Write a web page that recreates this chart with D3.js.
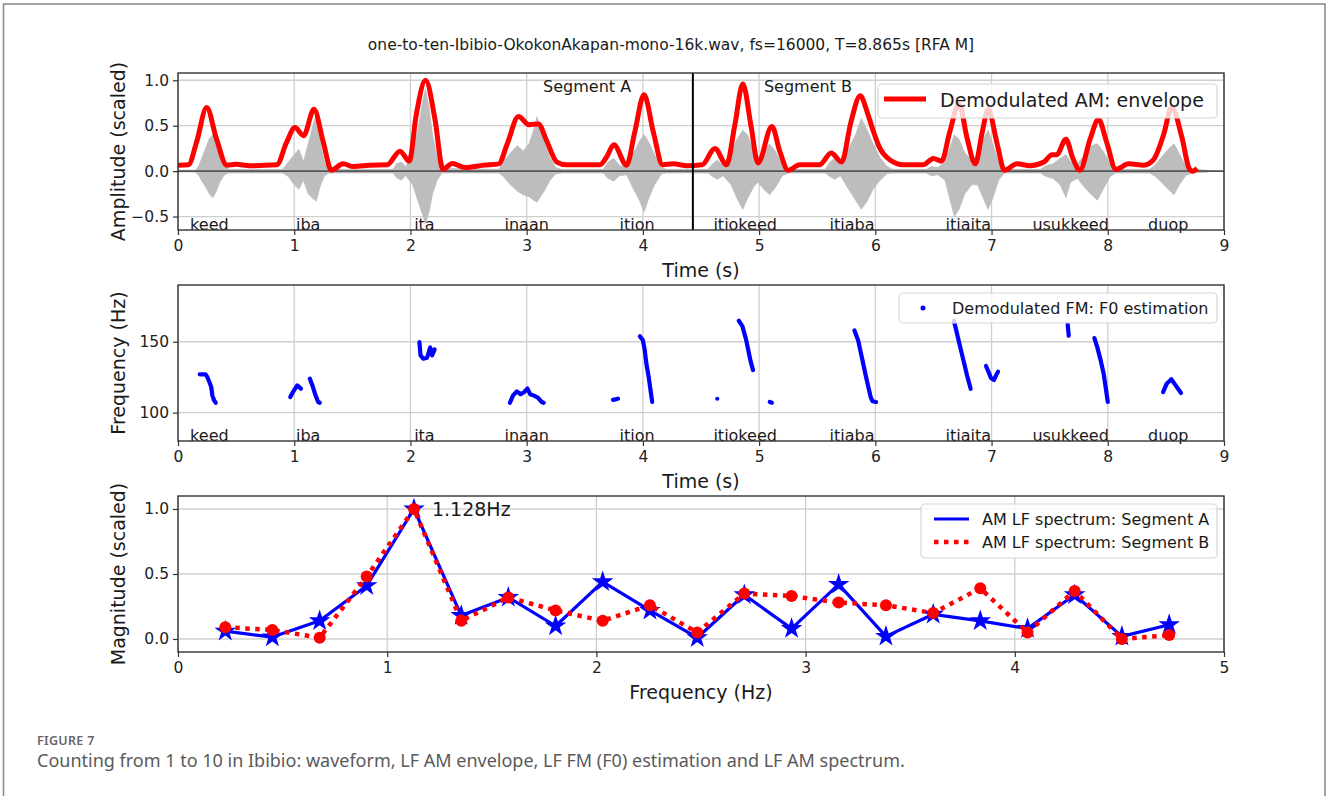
<!DOCTYPE html>
<html>
<head>
<meta charset="utf-8">
<script src="https://cdn.jsdelivr.net/npm/d3@7"></script>
<style>
    body { margin: 0; background: #fff; }
    svg text { font-family: "DejaVu Sans", sans-serif; fill: #1a1a1a; }
    .tick text { font-size: 15.5px; fill: #222; }
    .tick line { stroke: #333; stroke-width: 1.2; }
</style>
</head>
<body>
<svg id="fig"></svg>
<script>
// ---- Data ----
var title = 'one-to-ten-Ibibio-OkokonAkapan-mono-16k.wav, fs=16000, T=8.865s [RFA M]';

// gray waveform, drawn as upper / lower outline (time s, amplitude)
var waveTime = [0.00, 0.15, 0.18, 0.21, 0.24, 0.27, 0.30, 0.33, 0.36, 0.40, 0.44,
    0.90, 0.95, 1.00, 1.04, 1.08, 1.12, 1.16, 1.19, 1.22, 1.26, 1.30,
    1.85, 1.88, 1.92, 1.96, 2.02, 2.07, 2.11, 2.13, 2.16, 2.19, 2.23, 2.27,
    2.76, 2.80, 2.86, 2.92, 2.97, 3.02, 3.06, 3.09, 3.12, 3.16, 3.20, 3.25, 3.30,
    3.66, 3.70, 3.75, 3.80, 3.86, 3.92, 3.97, 4.01, 4.05, 4.10, 4.16, 4.20,
    4.56, 4.60, 4.64, 4.69, 4.76, 4.81, 4.86, 4.90, 4.95, 4.99, 5.04, 5.09, 5.14, 5.20, 5.25,
    5.57, 5.61, 5.65, 5.70, 5.77, 5.83, 5.88, 5.93, 5.98, 6.04, 6.10, 6.15,
    6.44, 6.48, 6.54, 6.60, 6.64, 6.68, 6.72, 6.77, 6.83, 6.88, 6.93, 6.97, 7.01, 7.06, 7.11,
    7.42, 7.47, 7.53, 7.59, 7.64, 7.68, 7.74, 7.80, 7.86, 7.91, 7.96, 8.02, 8.07,
    8.36, 8.41, 8.46, 8.52, 8.57, 8.62, 8.67, 8.72, 8.865];
var waveUpper = [0.01, 0.01, 0.06, 0.16, 0.26, 0.36, 0.40, 0.30, 0.18, 0.06, 0.02,
    0.02, 0.10, 0.18, 0.24, 0.10, 0.30, 0.50, 0.62, 0.35, 0.10, 0.02,
    0.02, 0.08, 0.10, 0.05, 0.20, 0.50, 0.80, 0.90, 0.70, 0.40, 0.15, 0.03,
    0.02, 0.10, 0.20, 0.28, 0.22, 0.30, 0.45, 0.60, 0.45, 0.30, 0.15, 0.04, 0.02,
    0.02, 0.10, 0.14, 0.06, 0.05, 0.20, 0.33, 0.40, 0.32, 0.18, 0.04, 0.02,
    0.02, 0.08, 0.12, 0.06, 0.22, 0.35, 0.45, 0.40, 0.22, 0.15, 0.22, 0.30, 0.22, 0.06, 0.02,
    0.02, 0.10, 0.14, 0.06, 0.25, 0.40, 0.58, 0.45, 0.30, 0.15, 0.05, 0.02,
    0.02, 0.05, 0.04, 0.10, 0.25, 0.40, 0.35, 0.20, 0.12, 0.18, 0.35, 0.45, 0.30, 0.10, 0.02,
    0.02, 0.06, 0.08, 0.14, 0.18, 0.10, 0.08, 0.18, 0.28, 0.30, 0.22, 0.08, 0.02,
    0.02, 0.07, 0.15, 0.24, 0.30, 0.18, 0.06, 0.02, 0.01];
var waveLower = [-0.01, -0.01, -0.05, -0.12, -0.18, -0.25, -0.29, -0.22, -0.12, -0.04, -0.02,
    -0.02, -0.06, -0.15, -0.20, -0.10, -0.25, -0.30, -0.33, -0.18, -0.05, -0.02,
    -0.02, -0.07, -0.10, -0.05, -0.15, -0.35, -0.50, -0.58, -0.45, -0.25, -0.10, -0.02,
    -0.02, -0.06, -0.15, -0.22, -0.26, -0.28, -0.32, -0.34, -0.28, -0.20, -0.10, -0.03, -0.02,
    -0.02, -0.08, -0.11, -0.05, -0.04, -0.20, -0.32, -0.45, -0.30, -0.15, -0.03, -0.02,
    -0.02, -0.06, -0.09, -0.05, -0.15, -0.30, -0.42, -0.30, -0.18, -0.12, -0.20, -0.26, -0.18, -0.05, -0.02,
    -0.02, -0.06, -0.09, -0.05, -0.20, -0.32, -0.42, -0.33, -0.20, -0.10, -0.03, -0.02,
    -0.02, -0.05, -0.04, -0.10, -0.30, -0.50, -0.42, -0.25, -0.15, -0.15, -0.30, -0.42, -0.30, -0.10, -0.02,
    -0.02, -0.06, -0.08, -0.15, -0.29, -0.12, -0.08, -0.18, -0.26, -0.32, -0.20, -0.06, -0.02,
    -0.02, -0.06, -0.12, -0.20, -0.26, -0.14, -0.05, -0.02, -0.01];

// red AM envelope (time s, scaled amplitude)
var envTime = [0.00, 0.09, 0.16, 0.247, 0.33, 0.42, 0.50, 0.62, 0.85, 0.935, 1.007, 1.08, 1.17, 1.25,
    1.32, 1.42, 1.51, 1.65, 1.80, 1.91, 1.99, 2.05, 2.13, 2.21, 2.28, 2.36, 2.47, 2.63, 2.76,
    2.83, 2.93, 3.02, 3.10, 3.17, 3.26, 3.34, 3.63, 3.69, 3.75, 3.86, 3.93, 4.01, 4.09, 4.17,
    4.26, 4.38, 4.51, 4.62, 4.72, 4.79, 4.86, 4.93, 4.99, 5.11, 5.18, 5.25, 5.35, 5.52, 5.62,
    5.71, 5.79, 5.87, 5.93, 5.98, 6.04, 6.13, 6.24, 6.41, 6.50, 6.57, 6.64, 6.72, 6.79, 6.86,
    6.92, 6.97, 7.05, 7.11, 7.22, 7.33, 7.45, 7.52, 7.56, 7.64, 7.70, 7.76, 7.85, 7.92, 7.99,
    8.07, 8.18, 8.31, 8.39, 8.48, 8.55, 8.64, 8.70, 8.73, 8.77];
var envValue = [0.066, 0.07, 0.32, 0.70, 0.36, 0.066, 0.075, 0.06, 0.07, 0.32, 0.48, 0.39, 0.68, 0.32,
    0.01, 0.08, 0.05, 0.066, 0.07, 0.22, 0.11, 0.62, 1.00, 0.58, 0.02, 0.085, 0.04, 0.066, 0.08,
    0.29, 0.60, 0.51, 0.52, 0.34, 0.10, 0.07, 0.07, 0.16, 0.29, 0.066, 0.43, 0.84, 0.43, 0.07,
    0.08, 0.06, 0.07, 0.25, 0.07, 0.50, 0.96, 0.50, 0.09, 0.49, 0.21, 0.01, 0.07, 0.07, 0.20,
    0.10, 0.54, 0.83, 0.65, 0.45, 0.25, 0.12, 0.07, 0.07, 0.14, 0.11, 0.43, 0.74, 0.36, 0.08,
    0.43, 0.68, 0.29, 0.01, 0.08, 0.06, 0.10, 0.18, 0.18, 0.35, 0.14, 0.01, 0.36, 0.57, 0.32,
    0.02, 0.08, 0.066, 0.12, 0.40, 0.70, 0.36, 0.03, 0.0, 0.03];

var segBoundary = 4.43;
var segLabels = ['Segment A', 'Segment B'];
var segLabelTime = [3.52, 5.42];

var words = ['keed', 'iba', 'ita', 'inaan', 'ition', 'itiokeed', 'itiaba', 'itiaita', 'usukkeed', 'duop'];
var wordTime = [0.27, 1.12, 2.12, 3.0, 3.95, 4.88, 5.8, 6.8, 7.68, 8.52];

// F0 estimates, one list per voiced stretch: [time s, Hz]
var f0Runs = [
    [[0.187, 127], [0.237, 127], [0.253, 125], [0.27, 121.6], [0.286, 118], [0.296, 112], [0.31, 108.7], [0.325, 107]],
    [[0.966, 111], [0.99, 114.6], [1.026, 119.2], [1.058, 116.9]],
    [[1.134, 124], [1.157, 119], [1.18, 113], [1.206, 107.5], [1.22, 107]],
    [[2.077, 149.8], [2.087, 140.4], [2.11, 138], [2.143, 138.7], [2.17, 146], [2.186, 140.4], [2.208, 144.6]],
    [[2.856, 107], [2.882, 112], [2.915, 115], [2.948, 113], [2.98, 114.6], [3.007, 117], [3.03, 113], [3.063, 112], [3.096, 110.6], [3.13, 107.5], [3.146, 107]],
    [[3.743, 109], [3.786, 109.8]],
    [[3.974, 153.8], [4.0, 151], [4.016, 144], [4.03, 134.5], [4.05, 125], [4.066, 115.7], [4.08, 107.5]],
    [[4.64, 109.8]],
    [[4.825, 164.8], [4.856, 161], [4.887, 151.8], [4.908, 143.6], [4.926, 136.5], [4.948, 130]],
    [[5.092, 107.5], [5.11, 107]],
    [[5.82, 158], [5.838, 154], [5.853, 150.7], [5.868, 145], [5.89, 136.8], [5.914, 127.4], [5.94, 118], [5.96, 111], [5.975, 108], [6.006, 107.5]],
    [[6.676, 164.8], [6.697, 157.7], [6.728, 147], [6.759, 136.5], [6.79, 126], [6.82, 116.8]],
    [[6.952, 132.9], [6.973, 128.9], [6.995, 124.4], [7.02, 123], [7.04, 126.5], [7.056, 128.9]],
    [[7.655, 162.4], [7.664, 154.2]],
    [[7.885, 152.6], [7.91, 146], [7.94, 136.5], [7.965, 127.2], [7.986, 115.5], [8.0, 107.5]],
    [[8.476, 114.5], [8.507, 120.4], [8.547, 123.5], [8.584, 119.2], [8.63, 113.8]]
];

// AM low-frequency spectrum
var specFreq = [0.226, 0.451, 0.677, 0.902, 1.128, 1.354, 1.579, 1.805, 2.030, 2.256, 2.482,
    2.707, 2.933, 3.158, 3.384, 3.610, 3.835, 4.061, 4.286, 4.512, 4.738];
var specA = [0.06, 0.015, 0.14, 0.41, 1.0, 0.18, 0.32, 0.10, 0.44, 0.22, 0.01,
    0.34, 0.08, 0.42, 0.02, 0.19, 0.14, 0.08, 0.34, 0.02, 0.11];
var specB = [0.09, 0.07, 0.01, 0.48, 1.0, 0.14, 0.32, 0.22, 0.14, 0.26, 0.05,
    0.35, 0.33, 0.28, 0.26, 0.20, 0.39, 0.05, 0.37, 0.0, 0.03];
var peakFreq = 1.128;

var timeTicks = [0, 1, 2, 3, 4, 5, 6, 7, 8, 9];
var ampTicks = [-0.5, 0.0, 0.5, 1.0];
var hzTicks = [100, 150];
var freqTicks = [0, 1, 2, 3, 4, 5];
var magTicks = [0.0, 0.5, 1.0];

// ---- Figure ----
var svgWidth = 1327;
var svgHeight = 796;
var plotLeft = 178;
var plotRight = 1224;

var svg = d3.select('#fig')
    .attr('width', svgWidth)
    .attr('height', svgHeight);

// frame around the figure
svg.append('rect')
    .attr('x', 3.5)
    .attr('y', 4)
    .attr('width', 1321.5)
    .attr('height', 900)
    .attr('fill', 'none')
    .attr('stroke', '#8c8c8c')
    .attr('stroke-width', 1.6);

svg.append('text')
    .attr('x', 671)
    .attr('y', 50)
    .attr('text-anchor', 'middle')
    .style('font-size', '15.5px')
    .text(title);

// Panel: scales, grid and clip area
function makePanel(id, top, bottom, xDomain, yDomain, xTicks, yTicks) {
    var x = d3.scaleLinear().domain(xDomain).range([plotLeft, plotRight]);
    var y = d3.scaleLinear().domain(yDomain).range([bottom, top]);
    var g = svg.append('g');

    g.append('g').selectAll('line')
        .data(xTicks)
        .enter()
        .append('line')
        .attr('x1', (d) => x(d))
        .attr('x2', (d) => x(d))
        .attr('y1', top)
        .attr('y2', bottom)
        .attr('stroke', '#cfcfcf')
        .attr('stroke-width', 1.3);

    g.append('g').selectAll('line')
        .data(yTicks)
        .enter()
        .append('line')
        .attr('x1', plotLeft)
        .attr('x2', plotRight)
        .attr('y1', (d) => y(d))
        .attr('y2', (d) => y(d))
        .attr('stroke', '#cfcfcf')
        .attr('stroke-width', 1.3);

    svg.append('clipPath')
        .attr('id', 'clip' + id)
        .append('rect')
        .attr('x', plotLeft)
        .attr('y', top)
        .attr('width', plotRight - plotLeft)
        .attr('height', bottom - top);

    var plot = g.append('g').attr('clip-path', `url(#clip${id})`);

    return { x: x, y: y, g: g, plot: plot, top: top, bottom: bottom };
}

// Axes, spines and labels on top of the marks
function finishPanel(p, xTicks, yTicks, yFormat, xLabel, yLabel) {
    p.g.append('g')
        .attr('transform', `translate(0, ${p.bottom})`)
        .call(d3.axisBottom(p.x).tickValues(xTicks).tickSize(5).tickPadding(5).tickFormat(d3.format('d')))
        .call((a) => a.select('.domain').remove());

    p.g.append('g')
        .attr('transform', `translate(${plotLeft}, 0)`)
        .call(d3.axisLeft(p.y).tickValues(yTicks).tickSize(5).tickPadding(4).tickFormat(yFormat))
        .call((a) => a.select('.domain').remove());

    p.g.append('rect')
        .attr('x', plotLeft)
        .attr('y', p.top)
        .attr('width', plotRight - plotLeft)
        .attr('height', p.bottom - p.top)
        .attr('fill', 'none')
        .attr('stroke', '#333')
        .attr('stroke-width', 1.4);

    p.g.append('text')
        .attr('x', (plotLeft + plotRight) / 2)
        .attr('y', p.bottom + 47)
        .attr('text-anchor', 'middle')
        .style('font-size', '19px')
        .text(xLabel);

    p.g.append('text')
        .attr('transform', `translate(125, ${(p.top + p.bottom) / 2}) rotate(-90)`)
        .attr('text-anchor', 'middle')
        .style('font-size', '19px')
        .text(yLabel);
}

function addWords(p) {
    p.g.selectAll('.word')
        .data(words)
        .enter()
        .append('text')
        .attr('x', (d, i) => p.x(wordTime[i]))
        .attr('y', p.bottom - 0.5)
        .attr('text-anchor', 'middle')
        .style('font-size', '16px')
        .text((d) => d);
}

function legendBox(g, x, y, w, h) {
    g.append('rect')
        .attr('x', x)
        .attr('y', y)
        .attr('width', w)
        .attr('height', h)
        .attr('rx', 4)
        .attr('fill', '#fff')
        .attr('fill-opacity', 0.8)
        .attr('stroke', '#d6d6d6')
        .attr('stroke-width', 1.2);
}

// ---- Panel 1: waveform + AM envelope ----
var p1 = makePanel('1', 73, 230, [0, 9], [-0.648, 1.08], timeTicks, ampTicks);

var wave = waveTime.map((t, i) => ({ t: t, up: waveUpper[i], lo: waveLower[i] }));
p1.plot.append('path')
    .datum(wave)
    .attr('fill', '#bdbdbd')
    .attr('stroke', '#bdbdbd')
    .attr('stroke-width', 0.8)
    .attr('d', d3.area()
        .x((d) => p1.x(d.t))
        .y0((d) => p1.y(d.lo))
        .y1((d) => p1.y(d.up)));

p1.plot.append('line')
    .attr('x1', plotLeft)
    .attr('x2', plotRight)
    .attr('y1', p1.y(0))
    .attr('y2', p1.y(0))
    .attr('stroke', '#555')
    .attr('stroke-width', 1.6);

var env = envTime.map((t, i) => [t, envValue[i]]);
p1.plot.append('path')
    .datum(env)
    .attr('fill', 'none')
    .attr('stroke', '#ff0000')
    .attr('stroke-width', 5)
    .attr('stroke-linejoin', 'round')
    .attr('d', d3.line()
        .x((d) => p1.x(d[0]))
        .y((d) => p1.y(d[1]))
        .curve(d3.curveMonotoneX));

p1.plot.append('line')
    .attr('x1', p1.x(segBoundary))
    .attr('x2', p1.x(segBoundary))
    .attr('y1', p1.top)
    .attr('y2', p1.bottom)
    .attr('stroke', '#000')
    .attr('stroke-width', 2);

p1.g.selectAll('.seg')
    .data(segLabels)
    .enter()
    .append('text')
    .attr('x', (d, i) => p1.x(segLabelTime[i]))
    .attr('y', p1.y(0.87))
    .attr('text-anchor', 'middle')
    .style('font-size', '16px')
    .text((d) => d);

addWords(p1);

var leg1 = p1.g.append('g');
legendBox(leg1, 878, 84, 339, 34);
leg1.append('line')
    .attr('x1', 884).attr('x2', 926)
    .attr('y1', 99).attr('y2', 99)
    .attr('stroke', '#ff0000')
    .attr('stroke-width', 5);
leg1.append('text')
    .attr('x', 940)
    .attr('y', 106.5)
    .style('font-size', '19px')
    .text('Demodulated AM: envelope');

finishPanel(p1, timeTicks, ampTicks, d3.format('.1f'), 'Time (s)', 'Amplitude (scaled)');

// ---- Panel 2: F0 estimation ----
var p2 = makePanel('2', 285, 441, [0, 9], [80, 190], timeTicks, hzTicks);

var f0Line = d3.line()
    .x((d) => p2.x(d[0]))
    .y((d) => p2.y(d[1]));

p2.plot.selectAll('.f0')
    .data(f0Runs)
    .enter()
    .append('path')
    .attr('fill', 'none')
    .attr('stroke', '#0000ff')
    .attr('stroke-width', 4.2)
    .attr('stroke-linecap', 'round')
    .attr('stroke-linejoin', 'round')
    .attr('d', (d) => d.length > 1 ? f0Line(d) : f0Line([d[0], d[0]]));

addWords(p2);

var leg2 = p2.g.append('g');
legendBox(leg2, 899, 293, 318, 30);
leg2.append('circle')
    .attr('cx', 923)
    .attr('cy', 308)
    .attr('r', 2.5)
    .attr('fill', '#0000ff');
leg2.append('text')
    .attr('x', 952)
    .attr('y', 313.5)
    .style('font-size', '16px')
    .text('Demodulated FM: F0 estimation');

finishPanel(p2, timeTicks, hzTicks, d3.format('d'), 'Time (s)', 'Frequency (Hz)');

// ---- Panel 3: AM LF spectrum ----
var p3 = makePanel('3', 496, 652, [0, 5], [-0.1, 1.1], freqTicks, magTicks);

var specLine = d3.line()
    .x((d) => p3.x(d[0]))
    .y((d) => p3.y(d[1]));

var dataA = specFreq.map((f, i) => [f, specA[i]]);
var dataB = specFreq.map((f, i) => [f, specB[i]]);

p3.plot.append('path')
    .datum(dataA)
    .attr('fill', 'none')
    .attr('stroke', '#0000ff')
    .attr('stroke-width', 3.2)
    .attr('stroke-linejoin', 'round')
    .attr('d', specLine);

p3.plot.selectAll('.star')
    .data(dataA)
    .enter()
    .append('path')
    .attr('transform', (d) => `translate(${p3.x(d[0])}, ${p3.y(d[1])})`)
    .attr('d', d3.symbol().type(d3.symbolStar).size(145))
    .attr('fill', '#0000ff');

p3.plot.append('path')
    .datum(dataB)
    .attr('fill', 'none')
    .attr('stroke', '#ff0000')
    .attr('stroke-width', 4.5)
    .attr('stroke-dasharray', '4.5,5.5')
    .attr('d', specLine);

p3.plot.selectAll('.dot')
    .data(dataB)
    .enter()
    .append('circle')
    .attr('cx', (d) => p3.x(d[0]))
    .attr('cy', (d) => p3.y(d[1]))
    .attr('r', 6)
    .attr('fill', '#ff0000');

p3.g.append('text')
    .attr('x', p3.x(peakFreq) + 18)
    .attr('y', p3.y(1.0) + 7)
    .style('font-size', '19px')
    .text(peakFreq.toFixed(3) + 'Hz');

var leg3 = p3.g.append('g');
legendBox(leg3, 921, 504, 296, 54);
leg3.append('line')
    .attr('x1', 934).attr('x2', 969)
    .attr('y1', 519).attr('y2', 519)
    .attr('stroke', '#0000ff')
    .attr('stroke-width', 3.2);
leg3.append('line')
    .attr('x1', 934).attr('x2', 969)
    .attr('y1', 542).attr('y2', 542)
    .attr('stroke', '#ff0000')
    .attr('stroke-width', 4.5)
    .attr('stroke-dasharray', '4.5,5.5');
leg3.append('text')
    .attr('x', 982)
    .attr('y', 525)
    .style('font-size', '16px')
    .text('AM LF spectrum: Segment A');
leg3.append('text')
    .attr('x', 982)
    .attr('y', 548)
    .style('font-size', '16px')
    .text('AM LF spectrum: Segment B');

finishPanel(p3, freqTicks, magTicks, d3.format('.1f'), 'Frequency (Hz)', 'Magnitude (scaled)');

// ---- Caption ----
svg.append('text')
    .attr('x', 37)
    .attr('y', 745)
    .style('font-family', '"Noto Sans", sans-serif')
    .style('font-size', '12.5px')
    .style('font-weight', 600)
    .style('letter-spacing', '0.3px')
    .style('fill', '#666')
    .text('FIGURE 7');

svg.append('text')
    .attr('x', 37)
    .attr('y', 767)
    .style('font-family', '"Noto Sans", sans-serif')
    .style('font-size', '18px')
    .style('fill', '#5a5a5a')
    .text('Counting from 1 to 10 in Ibibio: waveform, LF AM envelope, LF FM (F0) estimation and LF AM spectrum.');
</script>
</body>
</html>
